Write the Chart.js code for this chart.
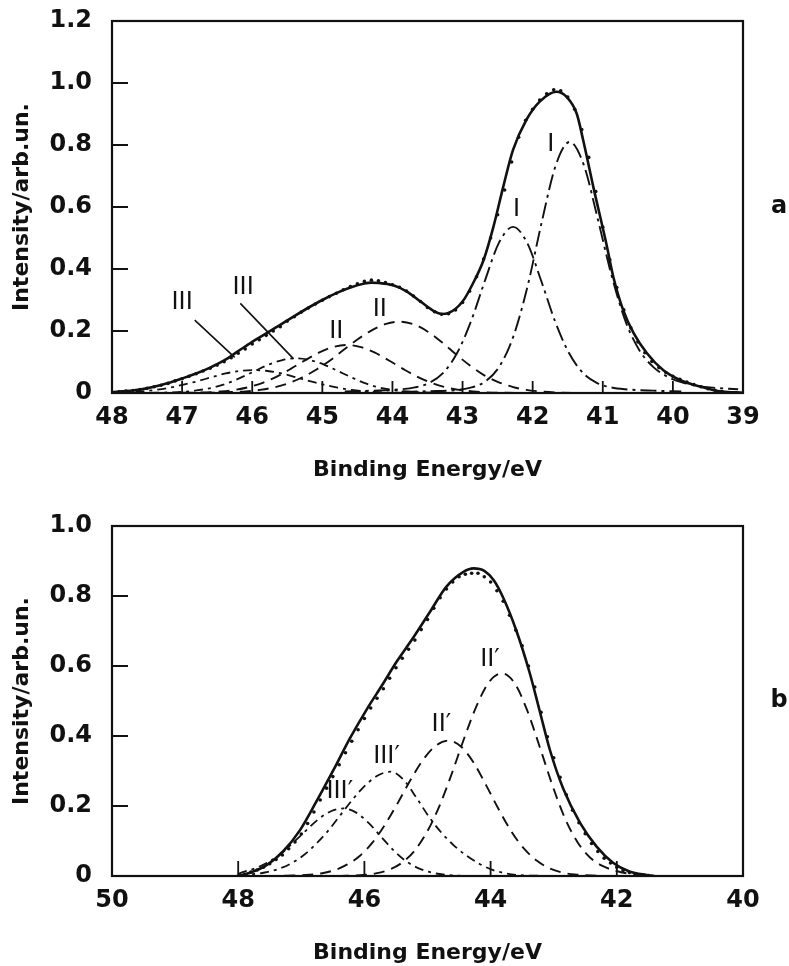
<!DOCTYPE html>
<html><head><meta charset="utf-8">
<script src="https://cdn.jsdelivr.net/npm/chart.js@4.4.1/dist/chart.umd.min.js"></script>
<style>
html,body{margin:0;padding:0;background:#fff;width:789px;height:966px;overflow:hidden}
#wa{position:absolute;left:0;top:0;width:789px;height:483px}
#wb{position:absolute;left:0;top:480px;width:789px;height:486px}
</style></head><body>
<div id="wa"><canvas id="ca" width="789" height="483"></canvas></div>
<div id="wb"><canvas id="cb" width="789" height="486"></canvas></div>
<script>
// ---------- Panel a ----------
const aXTickLabels = ['48','47','46','45','44','43','42','41','40','39'];
const aYTickLabels = ['0','0.2','0.4','0.6','0.8','1.0','1.2'];

const aDotE = [48.0,47.9,47.8,47.7,47.6,47.5,47.4,47.3,47.2,47.1,47.0,46.9,46.8,46.7,46.6,46.5,46.4,46.3,46.2,46.1,46.0,45.9,45.8,45.7,45.6,45.5,45.4,45.3,45.2,45.1,45.0,44.9,44.8,44.7,44.6,44.5,44.4,44.3,44.2,44.1,44.0,43.9,43.8,43.7,43.6,43.5,43.4,43.3,43.2,43.1,43.0,42.9,42.8,42.7,42.6,42.5,42.4,42.3,42.2,42.1,42.0,41.9,41.8,41.7,41.6,41.5,41.4,41.3,41.2,41.1,41.0,40.9,40.8,40.7,40.6,40.5,40.4,40.3,40.2,40.1,40.0,39.9,39.8,39.7,39.6,39.5,39.4,39.3];
const aDots = [0.002,0.004,0.006,0.008,0.011,0.015,0.020,0.025,0.031,0.039,0.046,0.054,0.062,0.071,0.080,0.090,0.101,0.114,0.128,0.142,0.158,0.172,0.186,0.200,0.214,0.232,0.246,0.261,0.274,0.287,0.299,0.311,0.322,0.333,0.343,0.352,0.360,0.364,0.362,0.356,0.349,0.341,0.329,0.313,0.295,0.276,0.262,0.254,0.256,0.268,0.292,0.328,0.375,0.432,0.500,0.575,0.655,0.745,0.825,0.880,0.915,0.945,0.965,0.978,0.975,0.955,0.915,0.850,0.760,0.650,0.535,0.430,0.340,0.268,0.210,0.165,0.130,0.102,0.082,0.066,0.054,0.044,0.035,0.027,0.020,0.014,0.009,0.005];

const aFitE = [48.0,47.8,47.6,47.4,47.2,47.0,46.8,46.6,46.4,46.2,46.0,45.8,45.6,45.4,45.2,45.0,44.8,44.6,44.4,44.3,44.2,44.0,43.8,43.6,43.4,43.3,43.2,43.0,42.85,42.7,42.56,42.42,42.28,42.09,41.9,41.66,41.52,41.37,41.28,41.135,40.94,40.85,40.71,40.56,40.37,40.14,39.9,39.6,39.43,39.3,39.0];
const aFit = [0.003,0.006,0.011,0.020,0.032,0.047,0.063,0.082,0.105,0.135,0.165,0.192,0.220,0.248,0.275,0.300,0.322,0.340,0.353,0.356,0.355,0.348,0.328,0.295,0.263,0.255,0.258,0.295,0.354,0.429,0.536,0.665,0.784,0.881,0.940,0.972,0.956,0.900,0.816,0.665,0.472,0.375,0.268,0.193,0.128,0.074,0.042,0.020,0.010,0.005,0.001];

// component I (main)
const aI1E = [43.87,43.47,43.07,42.87,42.67,42.47,42.27,42.07,41.87,41.67,41.47,41.27,41.07,40.87,40.67,40.47,40.27,40.07,39.87,39.67,39.47,39.07];
const aI1 = [0.004,0.006,0.010,0.018,0.038,0.087,0.186,0.347,0.552,0.735,0.810,0.735,0.560,0.375,0.228,0.135,0.082,0.052,0.034,0.024,0.018,0.012];
// component I (second)
const aI2E = [44.68,44.28,43.88,43.68,43.48,43.28,43.08,42.88,42.68,42.48,42.28,42.08,41.88,41.68,41.48,41.28,41.08,40.88,40.68,40.28,39.88];
const aI2 = [0.005,0.0075,0.012,0.018,0.032,0.064,0.128,0.231,0.363,0.485,0.536,0.485,0.363,0.231,0.128,0.064,0.032,0.018,0.012,0.0075,0.005];
// component II (right)
const aII1E = [46.69,46.29,46.09,45.89,45.69,45.49,45.29,45.09,44.89,44.69,44.49,44.29,44.09,43.89,43.69,43.49,43.29,43.09,42.89,42.69,42.49,42.29,42.09,41.89,41.69,41.29];
const aII1 = [0.000,0.003,0.005,0.010,0.018,0.031,0.050,0.075,0.105,0.140,0.174,0.203,0.223,0.230,0.221,0.197,0.163,0.124,0.088,0.057,0.035,0.020,0.010,0.005,0.002,0.000];
// component II (left)
const aII2E = [47.25,46.85,46.65,46.45,46.25,46.05,45.85,45.65,45.45,45.25,45.05,44.85,44.65,44.45,44.25,44.05,43.85,43.65,43.45,43.25,43.05,42.85,42.65,42.45,42.05];
const aII2 = [0.000,0.001,0.002,0.005,0.010,0.019,0.033,0.053,0.078,0.105,0.130,0.148,0.155,0.148,0.130,0.105,0.078,0.053,0.033,0.019,0.010,0.005,0.002,0.001,0.000];
// component III (right)
const aIII1E = [47.77,47.37,47.17,46.97,46.77,46.57,46.37,46.17,45.97,45.77,45.57,45.37,45.17,44.97,44.77,44.57,44.37,44.17,43.97,43.77,43.57,43.37,42.97];
const aIII1 = [0.000,0.001,0.002,0.004,0.009,0.017,0.030,0.049,0.070,0.091,0.106,0.112,0.106,0.091,0.070,0.049,0.030,0.017,0.009,0.004,0.002,0.001,0.000];
// component III (left)
const aIII2E = [47.98,47.78,47.58,47.38,47.18,46.98,46.78,46.58,46.38,46.18,45.98,45.78,45.58,45.38,45.18,44.98,44.78,44.58,44.38,44.18,43.98,43.58];
const aIII2 = [0.001,0.003,0.005,0.010,0.017,0.027,0.038,0.051,0.063,0.071,0.074,0.071,0.063,0.051,0.038,0.027,0.017,0.010,0.005,0.003,0.001,0.000];

const aLabelText = ['III','III','II','II','I','I'];
const aLabelE = [47.0,46.13,44.8,44.18,42.23,41.74];
const aLabelI = [0.29,0.338,0.198,0.268,0.59,0.80];
const aLeaderFromE = [46.82,46.17];
const aLeaderFromI = [0.235,0.289];
const aLeaderToE = [46.25,45.41];
const aLeaderToI = [0.115,0.11];

// ---------- Panel b ----------
const bXTickLabels = ['50','48','46','44','42','40'];
const bYTickLabels = ['0','0.2','0.4','0.6','0.8','1.0'];

const bDotE = [48.0,47.9,47.8,47.7,47.6,47.5,47.4,47.3,47.2,47.1,47.0,46.9,46.8,46.7,46.6,46.5,46.4,46.3,46.2,46.1,46.0,45.9,45.8,45.7,45.6,45.5,45.4,45.3,45.2,45.1,45.0,44.9,44.8,44.7,44.6,44.5,44.4,44.3,44.2,44.1,44.0,43.9,43.8,43.7,43.6,43.5,43.4,43.3,43.2,43.1,43.0,42.9,42.8,42.7,42.6,42.5,42.4,42.3,42.2,42.1,42.0,41.9,41.8,41.7,41.6,41.5];
const bDots = [0.000,0.005,0.011,0.017,0.025,0.035,0.047,0.060,0.078,0.097,0.120,0.150,0.183,0.217,0.251,0.284,0.318,0.352,0.385,0.418,0.450,0.480,0.508,0.535,0.565,0.595,0.622,0.648,0.674,0.704,0.733,0.765,0.795,0.820,0.840,0.855,0.862,0.865,0.865,0.855,0.840,0.815,0.785,0.745,0.702,0.658,0.600,0.540,0.468,0.398,0.338,0.282,0.232,0.188,0.152,0.121,0.093,0.070,0.051,0.037,0.025,0.016,0.010,0.006,0.003,0.001];

const bFitE = [48.0,47.8,47.55,47.29,47.02,46.76,46.49,46.23,45.96,45.72,45.49,45.23,44.96,44.70,44.43,44.27,44.1,43.95,43.80,43.59,43.38,43.22,43.06,42.85,42.58,42.32,42.06,41.8,41.53,41.4];
const bFit = [0.000,0.010,0.031,0.070,0.131,0.213,0.303,0.393,0.477,0.545,0.612,0.680,0.755,0.827,0.869,0.879,0.872,0.845,0.795,0.700,0.580,0.470,0.360,0.250,0.151,0.084,0.038,0.013,0.003,0.000];

// component II' (right)
const bII1E = [46.42,46.02,45.82,45.62,45.42,45.22,45.02,44.82,44.62,44.42,44.22,44.02,43.82,43.62,43.42,43.22,43.02,42.82,42.62,42.42,42.22,42.02,41.82,41.42];
const bII1 = [0.000,0.003,0.0075,0.017,0.036,0.069,0.122,0.196,0.290,0.393,0.487,0.555,0.579,0.551,0.473,0.368,0.259,0.164,0.096,0.052,0.028,0.015,0.007,0.001];
// component II' (left)
const bII2E = [47.27,46.87,46.67,46.47,46.27,46.07,45.87,45.67,45.47,45.27,45.07,44.87,44.67,44.47,44.27,44.07,43.87,43.67,43.47,43.27,43.07,42.87,42.67,42.27];
const bII2 = [0.0006,0.0036,0.008,0.017,0.033,0.058,0.096,0.148,0.209,0.274,0.332,0.372,0.387,0.370,0.324,0.259,0.190,0.127,0.078,0.044,0.022,0.010,0.0045,0.0006];
// component III' (right)
const bIII1E = [48.0,47.78,47.58,47.38,47.18,46.98,46.78,46.58,46.38,46.18,45.98,45.78,45.58,45.38,45.18,44.98,44.78,44.58,44.38,44.18,43.98,43.78,43.58,43.18];
const bIII1 = [0.002,0.005,0.010,0.019,0.034,0.057,0.089,0.128,0.174,0.220,0.260,0.288,0.298,0.275,0.225,0.170,0.124,0.087,0.058,0.035,0.018,0.008,0.003,0.0005];
// component III' (left)
const bIII2E = [48.0,47.93,47.73,47.53,47.33,47.13,46.93,46.73,46.53,46.33,46.13,45.93,45.73,45.53,45.33,45.13,44.93,44.73,44.53,44.13];
const bIII2 = [0.006,0.011,0.022,0.039,0.063,0.095,0.129,0.162,0.185,0.193,0.181,0.151,0.111,0.072,0.041,0.021,0.0095,0.0037,0.0013,0.0001];

const bLabelText = ['III\u2032','III\u2032','II\u2032','II\u2032'];
const bLabelE = [46.39,45.65,44.78,44.01];
const bLabelI = [0.241,0.341,0.431,0.617];

// ---------- helpers ----------
const pts = (xs, ys) => xs.map((x, i) => ({x: x, y: ys[i]}));
const INK = '#111';
const TICK_FONT = {family: 'DejaVu Sans', size: 24, weight: 'bold'};
const TITLE_FONT = {family: 'DejaVu Sans', size: 22, weight: 'bold'};

function lineDs(xs, ys, dash, width) {
  return {data: pts(xs, ys), showLine: true, borderColor: INK, borderWidth: width,
          borderDash: dash, pointRadius: 0, fill: false, cubicInterpolationMode: 'monotone'};
}
function dotDs(xs, ys) {
  return {data: pts(xs, ys), showLine: false, pointRadius: 1.8, pointBackgroundColor: INK,
          pointBorderWidth: 0, borderColor: INK};
}

const framePlugin = {
  id: 'frame',
  afterDatasetsDraw(chart, args, o) {
    const {ctx, chartArea: ca, scales} = chart;
    const xs = scales.x, ys = scales.y;
    ctx.save();
    ctx.strokeStyle = INK;
    ctx.lineWidth = 2.2;
    ctx.strokeRect(ca.left, ca.top, ca.right - ca.left, ca.bottom - ca.top);
    ctx.lineWidth = 1.8;
    ctx.beginPath();
    o.yTicks.forEach(v => { const p = ys.getPixelForValue(v); ctx.moveTo(ca.left, p); ctx.lineTo(ca.left + o.yLen, p); });
    o.xTicks.forEach(v => { const p = xs.getPixelForValue(v); ctx.moveTo(p, ca.bottom); ctx.lineTo(p, ca.bottom - o.xLen); });
    ctx.stroke();
    ctx.lineWidth = 1.6;
    ctx.beginPath();
    (o.leaders || []).forEach(l => {
      ctx.moveTo(xs.getPixelForValue(l[0]), ys.getPixelForValue(l[1]));
      ctx.lineTo(xs.getPixelForValue(l[2]), ys.getPixelForValue(l[3]));
    });
    ctx.stroke();
    ctx.fillStyle = INK;
    ctx.font = 'normal 24px "DejaVu Sans"';
    ctx.textAlign = 'center';
    ctx.textBaseline = 'middle';
    o.labels.forEach(l => ctx.fillText(l[0], xs.getPixelForValue(l[1]), ys.getPixelForValue(l[2])));
    ctx.font = 'bold 24px "DejaVu Sans"';
    ctx.fillText(o.letter, 779, (ca.top + ca.bottom) / 2);
    ctx.restore();
  }
};

function makeChart(id, datasets, xMin, xMax, xStep, xLabels, yMax, yLabels, padTop, frame) {
  return new Chart(document.getElementById(id), {
    type: 'scatter',
    data: {datasets: datasets},
    options: {
      responsive: false, animation: false, devicePixelRatio: 1,
      layout: {padding: {left: 0, right: 46, top: padTop, bottom: 0}},
      plugins: {legend: {display: false}, tooltip: {enabled: false}, frame: frame},
      scales: {
        x: {
          type: 'linear', min: xMin, max: xMax, reverse: true,
          grid: {display: false, drawTicks: false}, border: {display: false},
          ticks: {stepSize: xStep, color: INK, font: TICK_FONT, padding: 10, maxRotation: 0,
                  callback: (v) => xLabels[Math.round((xMax - v) / xStep)]},
          title: {display: true, text: 'Binding Energy/eV', color: INK, font: TITLE_FONT,
                  padding: {top: 0, bottom: 0}},
          afterFit: (s) => { s.height = 90; s.paddingLeft = 0; s.paddingRight = 0; }
        },
        y: {
          type: 'linear', min: 0, max: yMax,
          grid: {display: false, drawTicks: false}, border: {display: false},
          ticks: {stepSize: 0.2, color: INK, font: TICK_FONT, padding: 20,
                  callback: (v) => yLabels[Math.round(v / 0.2)]},
          title: {display: true, text: 'Intensity/arb.un.', color: INK, font: TITLE_FONT,
                  padding: {top: 9, bottom: 0}},
          afterFit: (s) => { s.width = 112; s.paddingTop = 0; s.paddingBottom = 0; }
        }
      }
    },
    plugins: [framePlugin]
  });
}

const dashI = [16, 5, 3, 5], dashII = [11, 7], dashIII = [9, 5, 3, 5];

makeChart('ca', [
  lineDs(aIII2E, aIII2, dashIII, 1.8),
  lineDs(aIII1E, aIII1, dashIII, 1.8),
  lineDs(aII2E, aII2, dashII, 1.9),
  lineDs(aII1E, aII1, dashII, 1.9),
  lineDs(aI2E, aI2, dashI, 1.9),
  lineDs(aI1E, aI1, dashI, 1.9),
  lineDs(aFitE, aFit, [], 2.6),
  dotDs(aDotE, aDots)
], 39, 48, 1, aXTickLabels, 1.2, aYTickLabels, 21, {
  yTicks: [0.2, 0.4, 0.6, 0.8, 1.0], yLen: 16,
  xTicks: [47, 46, 45, 44, 43, 42, 41, 40], xLen: 12,
  labels: aLabelText.map((t, i) => [t, aLabelE[i], aLabelI[i]]),
  leaders: aLeaderFromE.map((e, i) => [e, aLeaderFromI[i], aLeaderToE[i], aLeaderToI[i]]),
  letter: 'a'
});

makeChart('cb', [
  lineDs(bIII2E, bIII2, dashIII, 1.8),
  lineDs(bIII1E, bIII1, dashIII, 1.8),
  lineDs(bII2E, bII2, dashII, 1.9),
  lineDs(bII1E, bII1, dashII, 1.9),
  lineDs(bFitE, bFit, [], 2.6),
  dotDs(bDotE, bDots)
], 40, 50, 2, bXTickLabels, 1.0, bYTickLabels, 46, {
  yTicks: [0.2, 0.4, 0.6, 0.8], yLen: 16,
  xTicks: [48, 46, 44, 42], xLen: 15,
  labels: bLabelText.map((t, i) => [t, bLabelE[i], bLabelI[i]]),
  leaders: [],
  letter: 'b'
});
</script></body></html>
